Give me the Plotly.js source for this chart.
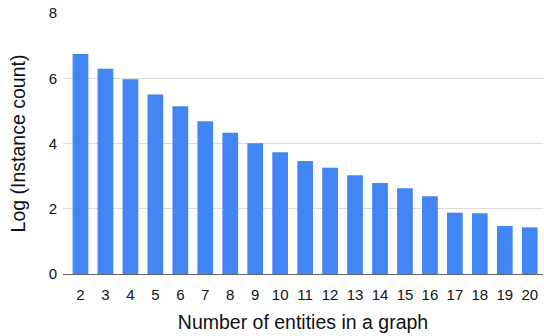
<!DOCTYPE html>
<html>
<head>
<meta charset="utf-8">
<script src="https://cdn.plot.ly/plotly-3.0.1.min.js"></script>
<style>html,body{margin:0;padding:0;background:#fff}#chart{width:544px;height:336px}</style>
</head>
<body>
<div id="chart"></div>
<script>
const categories = ["2","3","4","5","6","7","8","9","10","11","12","13","14","15","16","17","18","19","20"];
const logCounts = [6.74,6.29,5.97,5.50,5.14,4.68,4.33,4.01,3.73,3.46,3.26,3.03,2.79,2.63,2.38,1.88,1.86,1.47,1.43];
const yTicks = [0,2,4,6,8];

const trace = {
  type: 'bar',
  x: categories,
  y: logCounts,
  marker: {color: '#4285F4', line: {width: 0}},
  hoverinfo: 'none'
};

const layout = {
  width: 544, height: 336,
  margin: {l: 63, r: 1, t: 13, b: 62},
  paper_bgcolor: '#fff', plot_bgcolor: '#fff',
  font: {family: 'Liberation Sans, Arial, sans-serif', color: '#111'},
  bargap: 0.37,
  showlegend: false,
  xaxis: {
    type: 'category',
    range: [-0.7, 18.53],
    showgrid: false,
    showline: false,
    zeroline: false,
    ticks: '',
    ticklabelstandoff: 10,
    tickfont: {size: 15, color: '#111'},
    title: {text: 'Number of entities in a graph', font: {size: 19.5, color: '#111'}, standoff: 13}
  },
  yaxis: {
    range: [0, 8],
    tickvals: yTicks,
    ticktext: yTicks.map(String),
    showgrid: true,
    gridcolor: '#dcdcdc',
    gridwidth: 1,
    zeroline: true,
    zerolinecolor: '#666',
    zerolinewidth: 1,
    showline: false,
    ticks: '',
    ticklabelstandoff: 5,
    tickfont: {size: 15, color: '#111'},
    title: {text: 'Log (Instance count)', font: {size: 19.5, color: '#111'}, standoff: 17}
  }
};

Plotly.newPlot('chart', [trace], layout, {displayModeBar: false, staticPlot: true});
</script>
</body>
</html>
